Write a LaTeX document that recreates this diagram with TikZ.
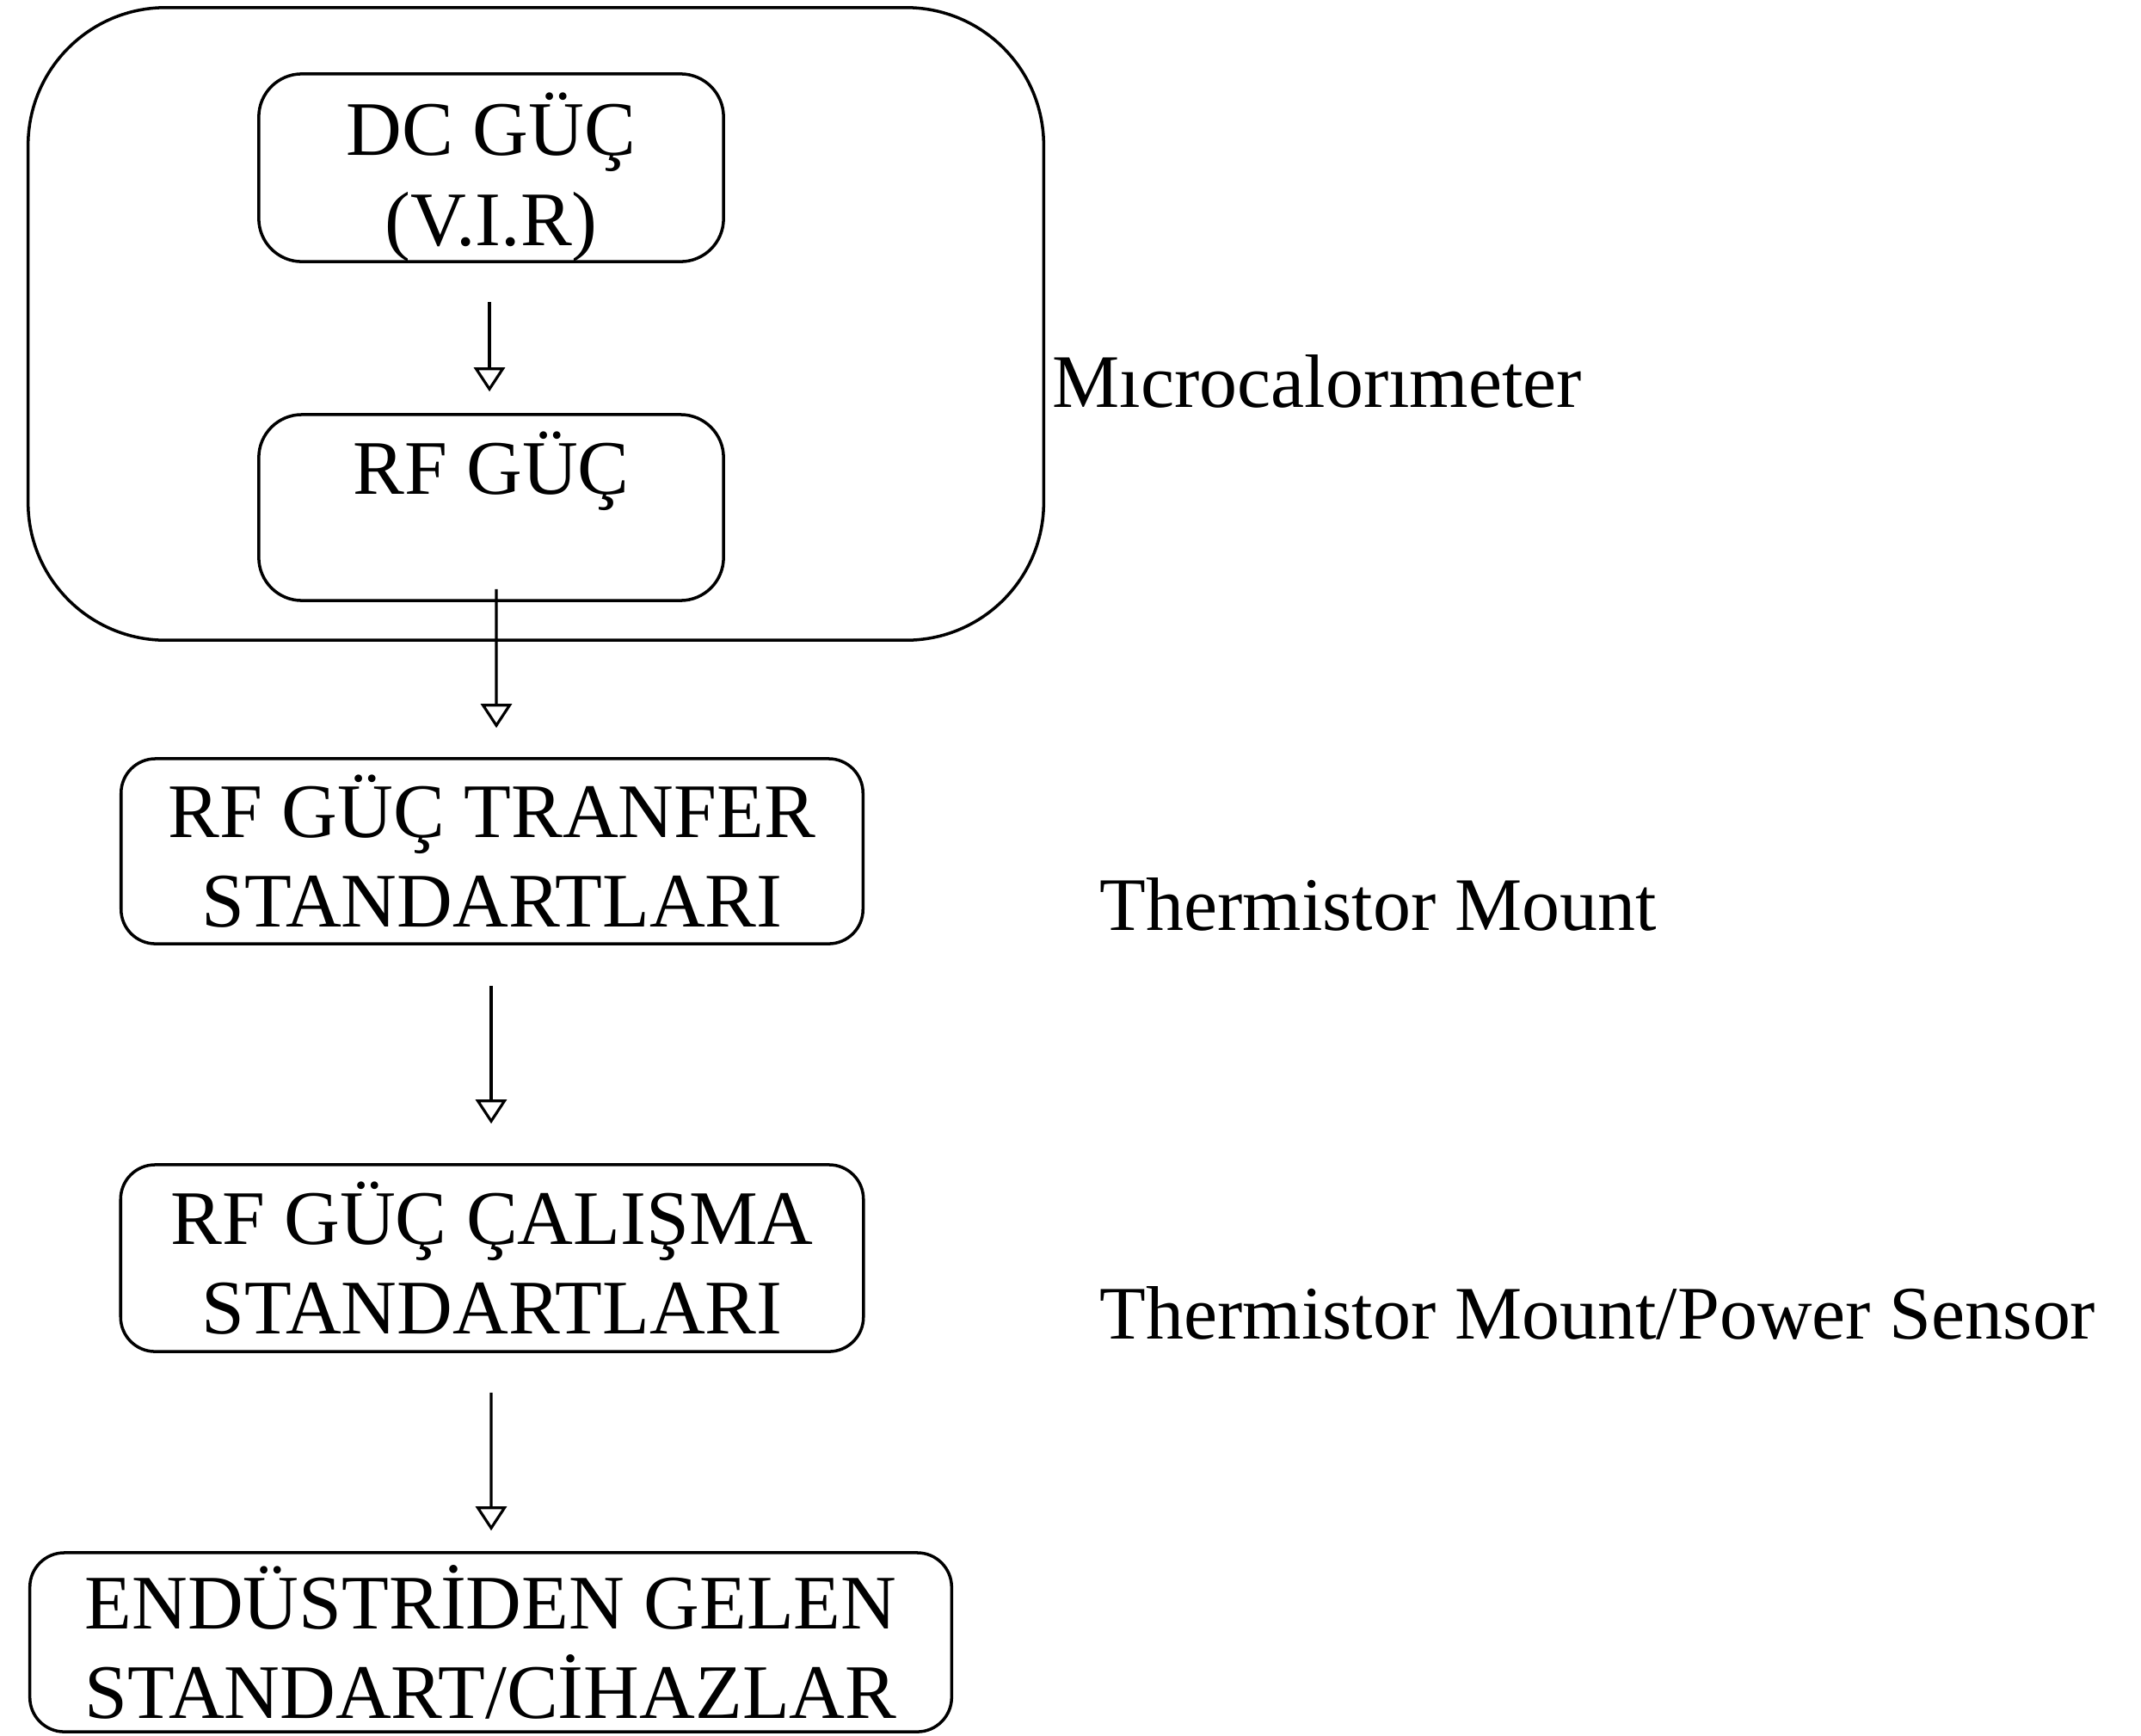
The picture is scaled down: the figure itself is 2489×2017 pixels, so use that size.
\documentclass[tikz,border=0pt]{standalone}
\usepackage{fontspec}
\setmainfont{Liberation Serif}
\usetikzlibrary{arrows.meta}
\newcommand{\bxfont}{\fontsize{25.5}{29.6}\selectfont}
\newcommand{\sdfont}{\fontsize{25}{29}\selectfont}
\begin{document}
\begin{tikzpicture}[x=0.01cm,y=-0.01cm,
  box/.style={draw, line width=1pt, rounded corners=0.45cm, inner sep=0pt, align=center, font=\bxfont},
  side/.style={font=\sdfont, inner sep=0pt, anchor=base west},
  flow/.style={draw, line width=0.9pt, -{Triangle[open, length=0.28cm, width=0.36cm, line width=0.9pt]}}
]
\useasboundingbox (0,0) rectangle (2489,2017);
% outer microcalorimeter frame
\node[box, rounded corners=1.6cm, minimum width=11.8cm, minimum height=7.35cm] (micro) at (623,376.5) {};
% boxes
\node[box, rounded corners=0.5cm, minimum width=5.4cm, minimum height=2.16cm] (dc) at (571,195) {\rule{0pt}{0.95cm}DC GÜÇ\\(V.I.R)};
\node[box, rounded corners=0.5cm, minimum width=5.4cm, minimum height=2.16cm] (rf) at (571,590) {RF GÜÇ\\\mbox{}};
\node[box, rounded corners=0.4cm, minimum width=8.62cm, minimum height=2.15cm] (tr) at (572,989.5) {RF GÜÇ TRANFER\\STANDARTLARI};
\node[box, rounded corners=0.4cm, minimum width=8.63cm, minimum height=2.17cm] (cal) at (572,1462.5) {RF GÜÇ ÇALIŞMA\\STANDARTLARI};
\node[box, rounded corners=0.4cm, minimum width=10.71cm, minimum height=2.08cm] (end) at (570.5,1909) {ENDÜSTRİDEN GELEN\\STANDART/CİHAZLAR};
% side labels
\node[side] (lmicro) at (1223,473) {Mıcrocalorımeter};
\node[side] (ltr) at (1278,1081) {Thermistor Mount};
\node[side] (lcal) at (1278,1556) {Thermistor Mount/Power Sensor};
% arrows
\draw[flow, shorten <=0.45cm, shorten >=0.25cm] ([xshift=-0.02cm]dc.south) -- ([xshift=-0.02cm]rf.north);
\draw[flow, shorten >=0.34cm] ([xshift=0.06cm,yshift=0.15cm]rf.south) -- ([xshift=0.05cm]tr.north);
\draw[flow, shorten <=0.47cm, shorten >=0.46cm] ([xshift=-0.01cm]tr.south) -- ([xshift=-0.01cm]cal.north);
\draw[flow, shorten <=0.46cm, shorten >=0.24cm] ([xshift=-0.01cm]cal.south) -- ([xshift=0.005cm]end.north);
\end{tikzpicture}
\end{document}
